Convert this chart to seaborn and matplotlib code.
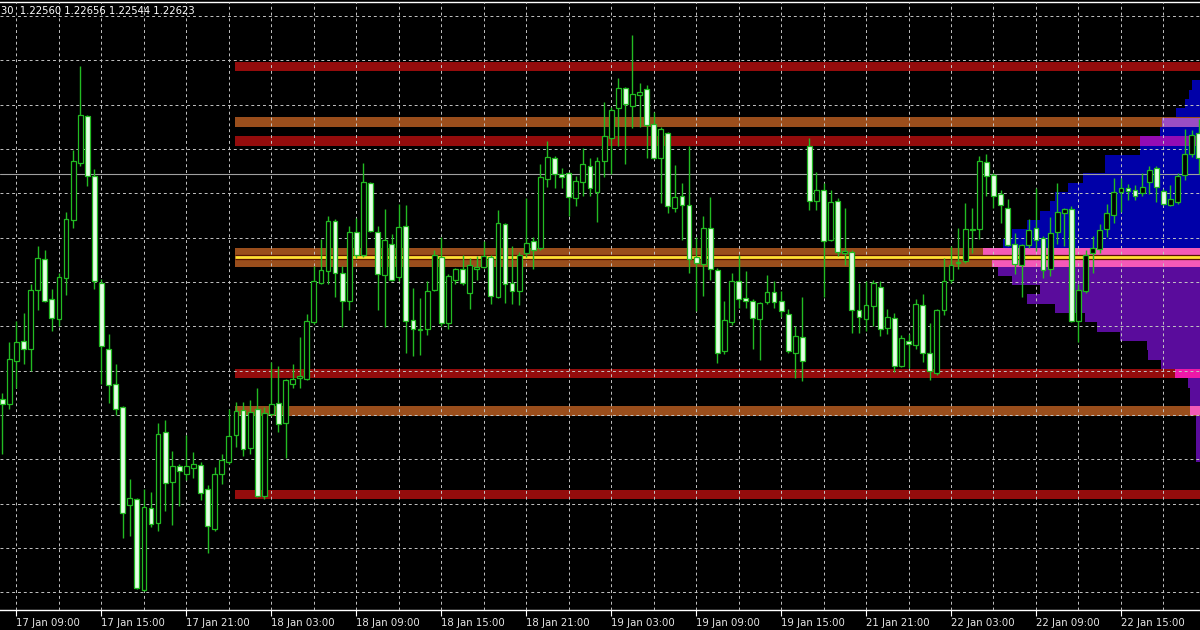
import numpy as np
import pandas as pd
import matplotlib
matplotlib.use('Agg')
import matplotlib.pyplot as plt
from matplotlib.colors import to_rgb
import seaborn as sns

# EURUSD M30, 17 Jan -> 22 Jan (one value per bar)
opens = [1.22117, 1.22105, 1.22203, 1.22246, 1.22230, 1.22363, 1.22432, 1.22341, 1.22296, 1.22389,
         1.22520, 1.22649, 1.22755, 1.22620, 1.22379, 1.22228, 1.22150, 1.22099, 1.21876, 1.21891,
         1.21686, 1.21871, 1.21837, 1.22041, 1.21929, 1.21966, 1.21948, 1.21960, 1.21968, 1.21913,
         1.21823, 1.21948, 1.21974, 1.22036, 1.22091, 1.22005, 1.22093, 1.21897, 1.22082, 1.22107,
         1.22063, 1.22149, 1.22164, 1.22162, 1.22289, 1.22379, 1.22404, 1.22518, 1.22401, 1.22338,
         1.22494, 1.22442, 1.22604, 1.22494, 1.22396, 1.22467, 1.22391, 1.22506, 1.22295, 1.22272,
         1.22275, 1.22363, 1.22436, 1.22287, 1.22385, 1.22409, 1.22355, 1.22409, 1.22414, 1.22436,
         1.22346, 1.22512, 1.22379, 1.22360, 1.22445, 1.22473, 1.22457, 1.22612, 1.22661, 1.22624,
         1.22627, 1.22570, 1.22606, 1.22643, 1.22584, 1.22653, 1.22706, 1.22772, 1.22818, 1.22777,
         1.22803, 1.22815, 1.22736, 1.22660, 1.22717, 1.22547, 1.22575, 1.22555, 1.22436, 1.22420,
         1.22502, 1.22408, 1.22224, 1.22289, 1.22382, 1.22343, 1.22338, 1.22297, 1.22334, 1.22357,
         1.22338, 1.22308, 1.22221, 1.22256, 1.22687, 1.22563, 1.22588, 1.22475, 1.22563, 1.22445,
         1.22447, 1.22316, 1.22297, 1.22326, 1.22369, 1.22277, 1.22300, 1.22191, 1.22248, 1.22238,
         1.22328, 1.22221, 1.22175, 1.22318, 1.22385, 1.22422, 1.22428, 1.22498, 1.22499, 1.22651,
         1.22622, 1.22579, 1.22548, 1.22467, 1.22418, 1.22463, 1.22502, 1.22480, 1.22409, 1.22494,
         1.22535, 1.22545, 1.22293, 1.22359, 1.22445, 1.22455, 1.22499, 1.22532, 1.22584, 1.22593,
         1.22588, 1.22581, 1.22606, 1.22638, 1.22586, 1.22553, 1.22561, 1.22622, 1.22668, 1.22717]
highs = [1.22130, 1.22244, 1.22293, 1.22310, 1.22375, 1.22461, 1.22453, 1.22365, 1.22401, 1.22539,
         1.22678, 1.22868, 1.22758, 1.22635, 1.22387, 1.22262, 1.22194, 1.22101, 1.21935, 1.21893,
         1.21913, 1.21907, 1.22063, 1.22068, 1.21999, 1.21970, 1.22036, 1.21997, 1.21974, 1.21921,
         1.21962, 1.21991, 1.22093, 1.22109, 1.22109, 1.22113, 1.22142, 1.22097, 1.22199, 1.22191,
         1.22162, 1.22195, 1.22256, 1.22308, 1.22416, 1.22477, 1.22530, 1.22522, 1.22416, 1.22506,
         1.22525, 1.22649, 1.22606, 1.22506, 1.22545, 1.22488, 1.22557, 1.22555, 1.22367, 1.22344,
         1.22383, 1.22453, 1.22481, 1.22398, 1.22412, 1.22440, 1.22434, 1.22439, 1.22473, 1.22442,
         1.22543, 1.22514, 1.22461, 1.22447, 1.22570, 1.22481, 1.22647, 1.22698, 1.22665, 1.22637,
         1.22629, 1.22620, 1.22682, 1.22660, 1.22663, 1.22786, 1.22776, 1.22841, 1.22821, 1.22938,
         1.22829, 1.22825, 1.22763, 1.22731, 1.22718, 1.22645, 1.22604, 1.22687, 1.22481, 1.22530,
         1.22573, 1.22412, 1.22338, 1.22400, 1.22440, 1.22404, 1.22342, 1.22334, 1.22396, 1.22383,
         1.22360, 1.22319, 1.22281, 1.22346, 1.22706, 1.22629, 1.22604, 1.22588, 1.22570, 1.22548,
         1.22453, 1.22379, 1.22383, 1.22385, 1.22383, 1.22319, 1.22310, 1.22261, 1.22262, 1.22341,
         1.22352, 1.22287, 1.22319, 1.22434, 1.22461, 1.22502, 1.22559, 1.22547, 1.22665, 1.22668,
         1.22627, 1.22588, 1.22567, 1.22490, 1.22467, 1.22522, 1.22592, 1.22485, 1.22526, 1.22604,
         1.22547, 1.22551, 1.22375, 1.22453, 1.22485, 1.22510, 1.22557, 1.22614, 1.22614, 1.22602,
         1.22600, 1.22627, 1.22641, 1.22641, 1.22589, 1.22600, 1.22627, 1.22725, 1.22723, 1.22747]
lows = [1.21991, 1.22093, 1.22142, 1.22195, 1.22179, 1.22318, 1.22334, 1.22269, 1.22281, 1.22351,
        1.22502, 1.22643, 1.22597, 1.22365, 1.22150, 1.22107, 1.22081, 1.21803, 1.21807, 1.21688,
        1.21684, 1.21827, 1.21819, 1.21864, 1.21831, 1.21875, 1.21934, 1.21938, 1.21889, 1.21768,
        1.21819, 1.21925, 1.21970, 1.22007, 1.21987, 1.21992, 1.21896, 1.21891, 1.22077, 1.22041,
        1.21984, 1.22142, 1.22142, 1.22158, 1.22285, 1.22375, 1.22375, 1.22346, 1.22279, 1.22318,
        1.22434, 1.22436, 1.22494, 1.22318, 1.22279, 1.22383, 1.22383, 1.22220, 1.22213, 1.22216,
        1.22261, 1.22359, 1.22281, 1.22273, 1.22375, 1.22374, 1.22319, 1.22385, 1.22412, 1.22330,
        1.22344, 1.22333, 1.22330, 1.22328, 1.22436, 1.22409, 1.22453, 1.22594, 1.22592, 1.22592,
        1.22529, 1.22551, 1.22575, 1.22575, 1.22516, 1.22616, 1.22624, 1.22686, 1.22647, 1.22728,
        1.22731, 1.22660, 1.22657, 1.22559, 1.22535, 1.22539, 1.22475, 1.22400, 1.22314, 1.22349,
        1.22385, 1.22197, 1.22218, 1.22283, 1.22322, 1.22322, 1.22228, 1.22205, 1.22330, 1.22322,
        1.22301, 1.22220, 1.22164, 1.22156, 1.22543, 1.22543, 1.22346, 1.22473, 1.22439, 1.22418,
        1.22265, 1.22265, 1.22269, 1.22281, 1.22259, 1.22262, 1.22177, 1.22189, 1.22187, 1.22228,
        1.22199, 1.22158, 1.22171, 1.22306, 1.22379, 1.22409, 1.22424, 1.22445, 1.22477, 1.22575,
        1.22547, 1.22514, 1.22461, 1.22398, 1.22346, 1.22457, 1.22449, 1.22390, 1.22393, 1.22465,
        1.22461, 1.22291, 1.22244, 1.22355, 1.22401, 1.22445, 1.22481, 1.22514, 1.22539, 1.22565,
        1.22565, 1.22575, 1.22579, 1.22561, 1.22553, 1.22551, 1.22557, 1.22611, 1.22663, 1.22624]
closes = [1.22105, 1.22207, 1.22244, 1.22230, 1.22363, 1.22434, 1.22338, 1.22299, 1.22391, 1.22522,
          1.22653, 1.22758, 1.22620, 1.22383, 1.22236, 1.22148, 1.22093, 1.21860, 1.21893, 1.21690,
          1.21872, 1.21834, 1.22037, 1.21927, 1.21965, 1.21954, 1.21966, 1.21970, 1.21905, 1.21830,
          1.21948, 1.21978, 1.22032, 1.22089, 1.22003, 1.22087, 1.21898, 1.22085, 1.22105, 1.22060,
          1.22158, 1.22162, 1.22167, 1.22293, 1.22383, 1.22408, 1.22518, 1.22401, 1.22338, 1.22492,
          1.22440, 1.22606, 1.22496, 1.22398, 1.22475, 1.22385, 1.22504, 1.22293, 1.22273, 1.22274,
          1.22360, 1.22440, 1.22287, 1.22393, 1.22409, 1.22377, 1.22418, 1.22413, 1.22438, 1.22348,
          1.22514, 1.22375, 1.22360, 1.22442, 1.22469, 1.22453, 1.22616, 1.22663, 1.22624, 1.22618,
          1.22571, 1.22608, 1.22647, 1.22592, 1.22653, 1.22710, 1.22769, 1.22818, 1.22782, 1.22804,
          1.22810, 1.22735, 1.22660, 1.22725, 1.22551, 1.22571, 1.22555, 1.22432, 1.22422, 1.22502,
          1.22409, 1.22221, 1.22295, 1.22382, 1.22341, 1.22338, 1.22299, 1.22333, 1.22357, 1.22336,
          1.22314, 1.22224, 1.22258, 1.22202, 1.22563, 1.22588, 1.22473, 1.22561, 1.22447, 1.22449,
          1.22318, 1.22301, 1.22328, 1.22377, 1.22273, 1.22301, 1.22191, 1.22254, 1.22240, 1.22330,
          1.22221, 1.22179, 1.22316, 1.22383, 1.22418, 1.22426, 1.22499, 1.22500, 1.22653, 1.22619,
          1.22575, 1.22553, 1.22463, 1.22420, 1.22463, 1.22498, 1.22475, 1.22408, 1.22491, 1.22539,
          1.22545, 1.22293, 1.22363, 1.22440, 1.22457, 1.22498, 1.22535, 1.22584, 1.22592, 1.22586,
          1.22575, 1.22594, 1.22633, 1.22594, 1.22557, 1.22567, 1.22620, 1.22669, 1.22712, 1.22660]

time_labels = ['17 Jan 09:00', '17 Jan 15:00', '17 Jan 21:00', '18 Jan 03:00', '18 Jan 09:00',
               '18 Jan 15:00', '18 Jan 21:00', '19 Jan 03:00', '19 Jan 09:00', '19 Jan 15:00',
               '21 Jan 21:00', '22 Jan 03:00', '22 Jan 09:00', '22 Jan 15:00']
header = '30  1.22560 1.22656 1.22544 1.22623'
bid_price = 1.22623
poc_price = 1.22436

# supply / demand zones
zone_mid = [1.228665, 1.227405, 1.226985, 1.22436, 1.221735, 1.220895, 1.219005]
zone_half = [0.00011, 0.00011, 0.00011, 0.00021, 0.00011, 0.00011, 0.00011]
zone_kind = ['strong', 'weak', 'strong', 'weak', 'strong', 'weak', 'strong']

# volume profile (row centre price, tick volume)
vp_price = [1.228245, 1.228035, 1.227825, 1.227615, 1.227405, 1.227195, 1.226985, 1.226775, 1.226565, 1.226355,
            1.226145, 1.225935, 1.225725, 1.225515, 1.225305, 1.225095, 1.224885, 1.224675, 1.224465, 1.224255,
            1.224045, 1.223835, 1.223625, 1.223415, 1.223205, 1.222995, 1.222785, 1.222575, 1.222365, 1.222155,
            1.221945, 1.221735, 1.221525, 1.221315, 1.221105, 1.220895, 1.220685, 1.220475, 1.220265, 1.220055,
            1.219845]
vp_volume = [8, 11, 15, 24, 38, 40, 60, 60, 95, 95,
             117, 132, 145, 150, 160, 173, 188, 197, 217, 208,
             202, 188, 160, 173, 145, 115, 103, 80, 53, 52,
             39, 25, 12, 10, 10, 10, 4, 4, 4, 4,
             4]

GREEN = '#22bb22'
BEAR_FILL = '#e6ffe6'
ZONE_COLORS = {'strong': '#940c0c', 'weak': '#9a4e1c'}
BLUE = '#0000a8'
PURPLE = '#5a0c9c'
ROW = 0.00021
X_MIN, X_MAX = -0.33, 169.17
ZONE_START = 32.85
PROFILE_SPAN = 30.6


def blend(a, b):
    return tuple(min(1.0, p + q) for p, q in zip(to_rgb(a), to_rgb(b)))


sns.set_theme(style='dark', rc={'axes.facecolor': 'black', 'figure.facecolor': 'black',
                                'axes.edgecolor': 'white', 'text.color': 'white'})
plt.rcParams['font.family'] = ['DejaVu Sans']

fig = plt.figure(figsize=(12, 6.3), dpi=100)
ax = fig.add_axes([0, 20 / 630, 1, 608 / 630])

df = pd.DataFrame({'open': opens, 'high': highs, 'low': lows, 'close': closes})
df['bar'] = np.arange(len(df))
df['bull'] = df['close'] >= df['open']
df['body_lo'] = df[['open', 'close']].min(axis=1)
df['body_h'] = (df['close'] - df['open']).abs().clip(lower=0.00002)

# volume profile, anchored on the right edge (POC row and below in purple)
vp = pd.DataFrame({'price': vp_price, 'volume': vp_volume})
vp['width'] = vp['volume'] / vp['volume'].max() * PROFILE_SPAN
vp['color'] = np.where(vp['price'] > poc_price + ROW, BLUE, PURPLE)
ax.barh(vp['price'], vp['width'], left=X_MAX - vp['width'], height=ROW,
        color=vp['color'], linewidth=0, zorder=1)

# zones, with the profile showing through where they overlap
for mid, half, kind in zip(zone_mid, zone_half, zone_kind):
    col = ZONE_COLORS[kind]
    ax.barh(mid, X_MAX - ZONE_START, left=ZONE_START, height=2 * half,
            color=col, linewidth=0, zorder=2)
    for _, row in vp.iterrows():
        lo = max(mid - half, row['price'] - ROW / 2)
        hi = min(mid + half, row['price'] + ROW / 2)
        if hi - lo > ROW * 0.3:
            ax.barh((lo + hi) / 2, row['width'], left=X_MAX - row['width'], height=hi - lo,
                    color=blend(col, row['color']), linewidth=0, zorder=2.1)

ax.hlines(poc_price, ZONE_START, X_MAX, color='#5a1400', lw=3.8, zorder=2.6)
ax.hlines(poc_price, ZONE_START, X_MAX, color='#ffe033', lw=2.0, zorder=2.7)
ax.axhline(bid_price, color='#a0a0a0', lw=0.8, zorder=2.8)

# candles
ax.vlines(df['bar'], df['low'], df['high'], color=GREEN, lw=1.0, zorder=4)
up = df[df['bull']]
dn = df[~df['bull']]
ax.bar(up['bar'], up['body_h'], bottom=up['body_lo'], width=0.68,
       color='black', edgecolor=GREEN, linewidth=0.9, zorder=5)
ax.bar(dn['bar'], dn['body_h'], bottom=dn['body_lo'], width=0.68,
       color=BEAR_FILL, edgecolor=GREEN, linewidth=0.9, zorder=5)

ax.set_xlim(X_MIN, X_MAX)
ax.set_ylim(1.21640, 1.23012)

tick_bars = list(range(2, len(df), 12))[:len(time_labels)]
ax.set_xticks(tick_bars, labels=time_labels)
ax.set_xticks(np.arange(8, len(df), 12), minor=True)
ax.set_yticks(np.round(1.2168 + 0.001 * np.arange(14), 4))
ax.set_axisbelow(False)
ax.grid(True, which='both', color='#c4c4c4', lw=0.7, ls=(0, (3, 3)))

ax.tick_params(axis='x', which='major', bottom=True, length=4, width=0.8, color='white',
               labelcolor='#e8e8e8', labelsize=7.3, pad=1.5, direction='out')
ax.tick_params(axis='x', which='minor', length=0)
ax.tick_params(axis='y', which='both', left=False, labelleft=False, length=0)
for lab in ax.get_xticklabels():
    lab.set_horizontalalignment('left')

for side in ['left', 'right']:
    ax.spines[side].set_visible(False)
for side in ['top', 'bottom']:
    ax.spines[side].set_visible(True)
    ax.spines[side].set_color('white')
    ax.spines[side].set_linewidth(1.0)

fig.text(0.001, 1 - 11 / 630, header, fontsize=7.2, color='white', va='center', ha='left')

fig.savefig('out.png', dpi=100, facecolor='black')
